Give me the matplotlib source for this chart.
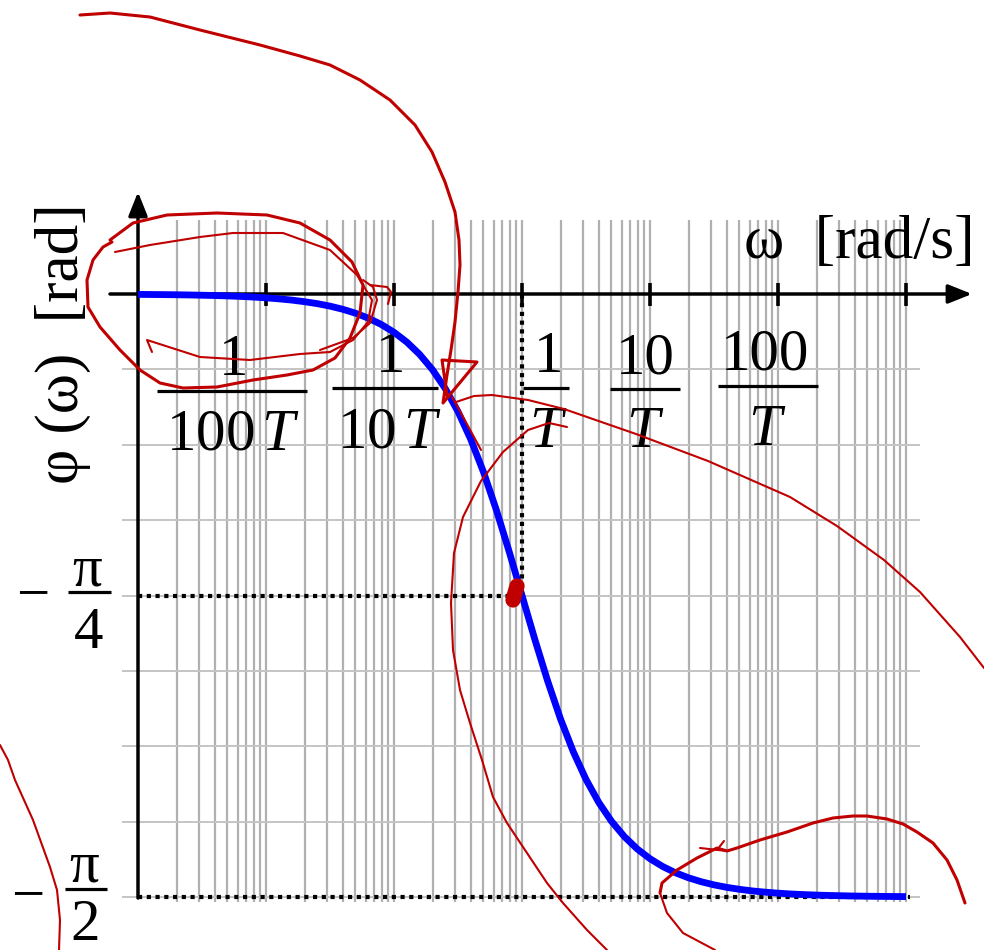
import numpy as np
import matplotlib
matplotlib.use('Agg')
import matplotlib.pyplot as plt
import matplotlib.transforms as mtransforms

plt.rcParams['font.family'] = ['Liberation Serif', 'DejaVu Serif']
plt.rcParams['mathtext.fontset'] = 'custom'
plt.rcParams['mathtext.rm'] = 'Liberation Serif'
plt.rcParams['mathtext.it'] = 'Liberation Serif:italic'

# phase of a first order lag, read every tenth of a decade (omega in units of 1/T)
log_omega = np.linspace(-3, 3, 61)
phase = [-0.0010, -0.0013, -0.0016, -0.0020, -0.0025, -0.0032, -0.0040, -0.0050,
         -0.0063, -0.0079, -0.0100, -0.0126, -0.0158, -0.0200, -0.0251, -0.0316,
         -0.0398, -0.0501, -0.0630, -0.0793, -0.0997, -0.1252, -0.1572, -0.1969,
         -0.2461, -0.3063, -0.3789, -0.4646, -0.5630, -0.6713, -0.7854,
         -0.8995, -1.0078, -1.1062, -1.1919, -1.2645, -1.3247, -1.3739, -1.4136,
         -1.4456, -1.4711, -1.4915, -1.5078, -1.5207, -1.5310, -1.5392, -1.5457,
         -1.5508, -1.5550, -1.5582, -1.5608, -1.5629, -1.5645, -1.5658, -1.5668,
         -1.5676, -1.5683, -1.5688, -1.5692, -1.5695, -1.5698]

decades = [0.01, 0.1, 1, 10, 100, 1000]
x_labels = [('1', r'$100\,T$'), ('1', r'$10\,T$'), ('1', r'$T$'),
            ('10', r'$T$'), ('100', r'$T$')]
y_levels = [-np.pi / 16 * i for i in range(1, 9)]

W, H = 984, 950
fig = plt.figure(figsize=(W / 100, H / 100), dpi=100)
ax = fig.add_axes([0, 0, 1, 1])
ax.set_xscale('log')

# pixel -> data helpers (138 px is 1e-3/T, 128 px per decade, 603 px per pi/2)
K = (np.pi / 2) / 603
def xd(p):
    return 10 ** (-3 + (p - 138) / 128)
def yd(p):
    return -(p - 294) * K

ax.set_xlim(xd(0), xd(W))
ax.set_ylim(yd(H), yd(0))
ax.axis('off')

# pixel coordinates for labels and ink
pix = mtransforms.Affine2D().scale(1 / W, -1 / H).translate(0, 1) + fig.transFigure

grid_c = '#b0b0b0'
grid_x = [m * 10.0 ** d for d in range(-3, 3) for m in range(1, 10)] + [1000]
ax.vlines(grid_x[1:], yd(902), yd(220), color=grid_c, lw=1.6, zorder=1)
ax.hlines(y_levels, xd(122), xd(920), color='#c4c4c4', lw=1.4, zorder=1)

dots = dict(color='black', lw=3.0, linestyle=(0, (1, 1.1)), zorder=2)
ax.plot([xd(138), 1], [-np.pi / 4, -np.pi / 4], **dots)
ax.plot([1, 1], [-np.pi / 4, 0], **dots)
ax.plot([xd(138), xd(910)], [-np.pi / 2, -np.pi / 2], **dots)

ax.plot(10 ** log_omega, phase, color='#0000ff', lw=4.9,
        solid_capstyle='butt', solid_joinstyle='round', zorder=4)

# axes with arrow heads
arrow = dict(arrowstyle='-|>,head_length=0.8,head_width=0.32', lw=2.5,
             color='black', shrinkA=0, shrinkB=0, mutation_scale=18)
ax.annotate('', xy=(xd(972), 0), xytext=(xd(110), 0), arrowprops=arrow, zorder=3)
ax.annotate('', xy=(xd(138), yd(192)), xytext=(xd(138), yd(898)),
            arrowprops=arrow, zorder=3)
ax.vlines(decades, yd(306), yd(283), color='black', lw=2.6, zorder=3)

fs = 42.5
# fraction labels under the frequency axis
num_pos = [(234, 375), (391, 372), (549, 372), (645, 373), (765, 370)]
den_pos = [(233, 450), (389, 447), (548, 447), (645, 447), (767, 445)]
bars = [(157, 307, 391), (332, 438, 388), (523, 569, 388), (610, 680, 389),
        (718, 818, 386)]
for (n, d), (nx, ny), (dx, dy), (b0, b1, by) in zip(x_labels, num_pos, den_pos, bars):
    ax.text(nx, ny, n, transform=pix, fontsize=fs, ha='center', va='baseline')
    ax.text(dx, dy, d, transform=pix, fontsize=fs, ha='center', va='baseline')
    ax.plot([b0, b1], [by, by], color='black', lw=2.3, transform=pix,
            solid_capstyle='butt')

# -pi/4 and -pi/2 on the phase axis
for (mx, my), (px, py), (qx, qy, q), (b0, b1, by) in [
        ((33, 611), (87, 585), (89, 648, '4'), (68, 111, 592)),
        ((28, 912), (84, 882), (85, 940, '2'), (65, 107, 889))]:
    ax.text(mx, my, '\u2212', transform=pix, fontsize=fs, ha='center', va='baseline')
    ax.text(px, py, '\u03c0', transform=pix, fontsize=fs, ha='center', va='baseline')
    ax.text(qx, qy, q, transform=pix, fontsize=fs, ha='center', va='baseline')
    ax.plot([b0, b1], [by, by], color='black', lw=2.3, transform=pix,
            solid_capstyle='butt')

ax.text(975, 258, '\u03c9  [rad/s]', transform=pix, fontsize=44, ha='right',
        va='baseline')
ax.text(78, 203, '\u03c6 (\u03c9)  [rad]', transform=pix, fontsize=44,
        rotation=90, rotation_mode='anchor', ha='right', va='baseline')

# red pen marks drawn over the plot
ink = '#c00000'
strokes_thick = [
    [(80, 15), (110, 13), (150, 17), (200, 30), (260, 45), (300, 56), (330, 65),
     (360, 80), (390, 100), (415, 125), (432, 152), (445, 182), (455, 212),
     (459, 240), (460, 265), (458, 292), (455, 322), (451, 350), (447, 375),
     (443, 403), (477, 362), (442, 360), (447, 395)],
    [(110, 240), (133, 223), (167, 215), (217, 213), (267, 215), (300, 223),
     (330, 240), (352, 262), (363, 285), (360, 313), (350, 338), (335, 358),
     (313, 370), (287, 375), (253, 380), (217, 387), (183, 388), (160, 383),
     (140, 370), (120, 350), (100, 327), (88, 307), (87, 280), (93, 260),
     (103, 247), (112, 242)],
    [(660, 893), (662, 883), (677, 870), (697, 858), (717, 848), (727, 851),
     (737, 848), (760, 840), (787, 832), (813, 823), (833, 818), (853, 816),
     (867, 816), (887, 819), (903, 824), (917, 832), (933, 843), (947, 860),
     (957, 880), (965, 903)],
]
strokes_thin = [
    [(115, 252), (150, 245), (200, 237), (233, 233), (283, 233), (330, 250),
     (357, 275), (372, 300), (368, 322), (353, 340), (330, 352), (300, 354),
     (250, 360), (200, 357), (147, 340), (152, 352)],
    [(363, 280), (373, 287), (377, 300), (370, 323), (353, 338), (320, 350)],
    [(370, 285), (387, 287), (391, 292), (388, 304)],
    [(452, 397), (462, 415), (481, 450)],
    [(456, 402), (474, 396), (492, 395), (528, 400), (564, 409), (636, 434),
     (708, 461), (790, 497), (837, 526), (884, 560), (920, 592), (960, 637),
     (984, 668)],
    [(567, 427), (549, 423), (528, 430), (503, 452), (481, 481), (463, 517),
     (454, 553), (451, 603), (453, 650), (460, 690), (470, 723), (482, 760),
     (493, 797), (507, 823), (527, 853), (547, 883), (563, 903), (587, 930),
     (607, 950)],
    [(0, 745), (8, 760), (15, 780), (33, 820), (50, 867), (57, 890), (60, 920),
     (59, 950)],
    [(660, 893), (667, 913), (683, 933), (715, 950)],
    [(700, 848), (727, 851)],
    [(717, 850), (724, 841)],
]
for s in strokes_thick:
    xs, ys = zip(*s)
    ax.plot(xs, ys, color=ink, lw=2.2, transform=pix, solid_joinstyle='round',
            solid_capstyle='round', zorder=6)
for s in strokes_thin:
    xs, ys = zip(*s)
    ax.plot(xs, ys, color=ink, lw=1.5, transform=pix, solid_joinstyle='round',
            solid_capstyle='round', zorder=6)
ax.plot([517, 513], [586, 600], color=ink, lw=11, transform=pix,
        solid_capstyle='round', zorder=6)

plt.savefig('out.png', dpi=100)
